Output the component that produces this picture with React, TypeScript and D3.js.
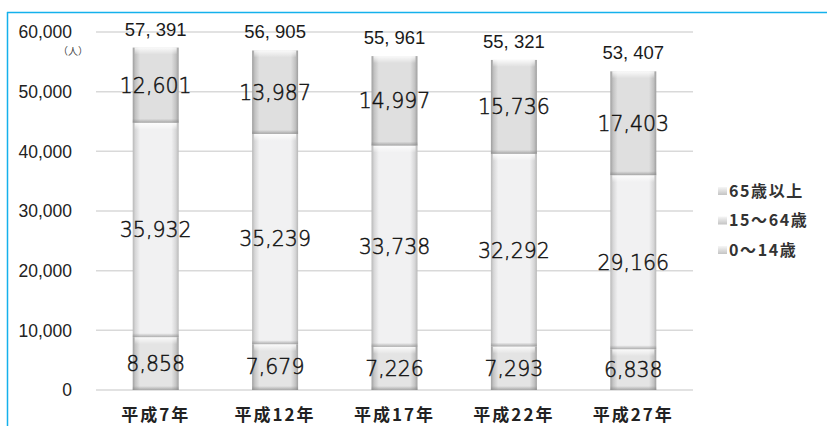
import React from "react";
import * as d3 from "d3";

// 年齢3区分別人口（人）
const categories = ["平成7年", "平成12年", "平成17年", "平成22年", "平成27年"];
const age0to14 = [8858, 7679, 7226, 7293, 6838];
const age15to64 = [35932, 35239, 33738, 32292, 29166];
const age65plus = [12601, 13987, 14997, 15736, 17403];
const totals = [57391, 56905, 55961, 55321, 53407];
const totalLabels = ["57, 391", "56, 905", "55, 961", "55, 321", "53, 407"];
const seriesNames = ["0〜14歳", "15〜64歳", "65歳以上"];
const yTicks = [0, 10000, 20000, 30000, 40000, 50000, 60000];

const W = 827;
const H = 426;
const plot = { left: 96, right: 693, top: 32, bottom: 390 };

// bevel colours per series: [centre, edge]
const seriesTone: [string, string][] = [
  ["#e4e4e4", "#a0a0a0"],
  ["#f1f1f2", "#b8b8b8"],
  ["#dfdfdf", "#9e9e9e"],
];

export default function App() {
  const x = d3
    .scaleBand<string>()
    .domain(categories)
    .range([plot.left, plot.right])
    .paddingInner(0.615)
    .paddingOuter(0.3075);
  const y = d3.scaleLinear().domain([0, 60000]).range([plot.bottom, plot.top]);

  const rows = categories.map((c, i) => ({
    cat: c,
    v0: age0to14[i],
    v1: age15to64[i],
    v2: age65plus[i],
  }));
  const stack = d3.stack<any>().keys(["v0", "v1", "v2"])(rows);
  const fmt = d3.format(",");
  const bw = x.bandwidth();

  return (
    <svg
      width={W}
      height={H}
      style={{ position: "absolute", left: 0, top: 0, background: "#fff" }}
      fontFamily="'Liberation Sans', Arial, sans-serif"
    >
      <defs>
        {seriesTone.map(([c, e], k) => (
          <linearGradient key={k} id={`hz${k}`} x1="0" x2="1" y1="0" y2="0">
            <stop offset="0" stopColor={e} />
            <stop offset="0.06" stopColor={d3.interpolateRgb(e, c)(0.55)} />
            <stop offset="0.16" stopColor={c} />
            <stop offset="0.84" stopColor={c} />
            <stop offset="0.94" stopColor={d3.interpolateRgb(e, c)(0.55)} />
            <stop offset="1" stopColor={e} />
          </linearGradient>
        ))}
        <linearGradient id="topHi" x1="0" x2="0" y1="0" y2="1">
          <stop offset="0" stopColor="#ffffff" stopOpacity={0.85} />
          <stop offset="1" stopColor="#ffffff" stopOpacity={0} />
        </linearGradient>
        <linearGradient id="botSh" x1="0" x2="0" y1="0" y2="1">
          <stop offset="0" stopColor="#808080" stopOpacity={0} />
          <stop offset="1" stopColor="#808080" stopOpacity={0.6} />
        </linearGradient>
        <linearGradient id="legIcon" x1="0" x2="0" y1="0" y2="1">
          <stop offset="0" stopColor="#f6f6f6" />
          <stop offset="1" stopColor="#c4c4c4" />
        </linearGradient>
      </defs>

      {/* frame */}
      <line x1={7} x2={W} y1={12.5} y2={12.5} stroke="#14b1ec" strokeWidth={1.5} />
      <line x1={7.5} x2={7.5} y1={12} y2={H} stroke="#14b1ec" strokeWidth={1.5} />

      {/* gridlines */}
      {yTicks.map((t) => (
        <line
          key={t}
          x1={plot.left}
          x2={plot.right}
          y1={y(t)}
          y2={y(t)}
          stroke="#d9d9d9"
          strokeWidth={1.5}
        />
      ))}

      {/* y axis labels */}
      {yTicks.map((t) => (
        <text
          key={t}
          x={72}
          y={y(t)}
          dy="0.36em"
          textAnchor="end"
          fontSize={17.5}
          fill="#222"
        >
          {fmt(t)}
        </text>
      ))}
      <text x={73} y={55} textAnchor="middle" fontSize={10} fill="#444" fontFamily="'Noto Sans CJK JP', sans-serif">
        （人）
      </text>

      {/* stacked bars */}
      {stack.map((layer, k) => (
        <g key={k}>
          {layer.map((d, i) => {
            const x0 = x(categories[i])!;
            const yTop = y(d[1]);
            const yBot = y(d[0]);
            const h = yBot - yTop;
            return (
              <g key={i}>
                <rect x={x0} y={yTop} width={bw} height={h} fill={`url(#hz${k})`} />
                <rect x={x0 + 2} y={yTop} width={bw - 4} height={Math.min(7, h)} fill="url(#topHi)" />
                <rect x={x0} y={yBot - 4} width={bw} height={4} fill="url(#botSh)" />
              </g>
            );
          })}
        </g>
      ))}

      {/* segment value labels */}
      {stack.map((layer, k) =>
        layer.map((d, i) => (
          <text
            key={`${k}-${i}`}
            x={x(categories[i])! + bw / 2}
            y={(y(d[0]) + y(d[1])) / 2}
            dy="0.36em"
            textAnchor="middle"
            fontSize={20.5}
            fontWeight={200}
            fill="#111"
            stroke="#111"
            strokeWidth={0.45}
            fontFamily="'DejaVu Sans', sans-serif"
          >
            {fmt(d[1] - d[0])}
          </text>
        ))
      )}

      {/* totals */}
      {totals.map((t, i) => (
        <text
          key={i}
          x={x(categories[i])! + bw / 2}
          y={y(t) - 12}
          textAnchor="middle"
          fontSize={18.5}
          fill="#1a1a1a"
        >
          {totalLabels[i]}
        </text>
      ))}

      {/* category labels */}
      {categories.map((c) => (
        <text
          key={c}
          x={x(c)! + bw / 2}
          y={415}
          dy="0.36em"
          textAnchor="middle"
          fontSize={17}
          fontWeight={700}
          letterSpacing={2}
          fill="#222"
          fontFamily="'Noto Sans CJK JP', sans-serif"
        >
          {c}
        </text>
      ))}

      {/* legend */}
      {[2, 1, 0].map((k, j) => {
        const ly = 191 + j * 29.5;
        return (
          <g key={k}>
            <rect x={718} y={ly - 4} width={9} height={8} fill="url(#legIcon)" />
            <text
              x={729}
              y={ly}
              dy="0.36em"
              fontSize={16}
              fontWeight={700}
              letterSpacing={1.6}
              fill="#333"
              fontFamily="'Noto Sans CJK JP', sans-serif"
            >
              {seriesNames[k]}
            </text>
          </g>
        );
      })}
    </svg>
  );
}
